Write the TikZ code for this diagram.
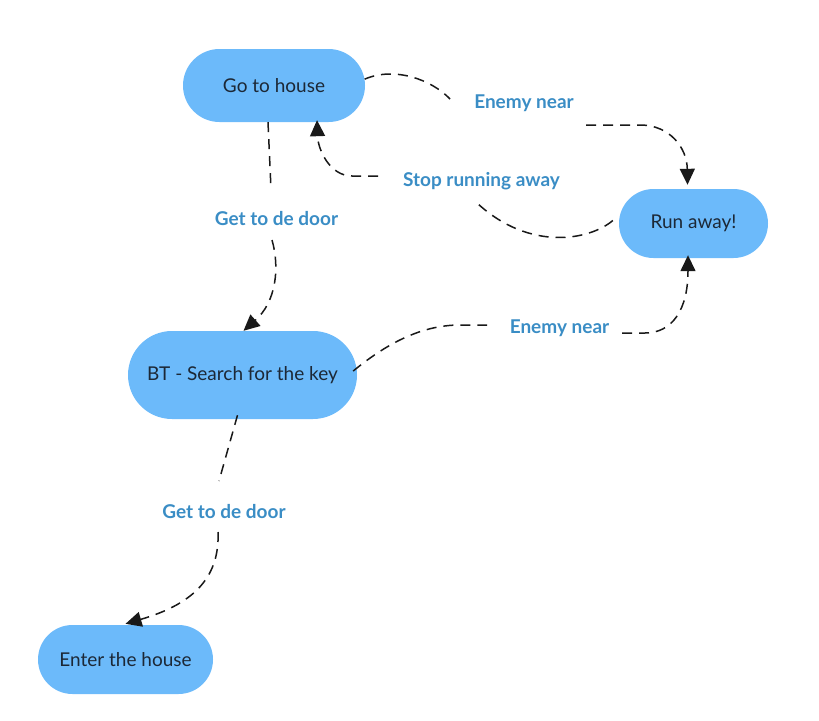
\documentclass[tikz,border=0pt]{standalone}
\usepackage{fontspec}
\setmainfont{Lato}
\usetikzlibrary{shapes.misc,arrows.meta}
\definecolor{nodefill}{HTML}{6CBAFA}
\definecolor{labelblue}{HTML}{3A8DC5}
\definecolor{nodetext}{HTML}{1C2836}
\tikzset{
  state/.style={rounded rectangle, fill=nodefill, draw=none, text=nodetext,
    font=\fontsize{19}{22}\selectfont, inner sep=0pt},
  elabel/.style={text=labelblue, font=\bfseries\fontsize{19}{22}\selectfont, inner sep=1pt},
  conn/.style={draw=black!90, line width=1.5pt, dash pattern=on 10pt off 7pt},
  arr/.style={conn, -{Triangle[length=16pt,width=15pt]}}
}
\begin{document}
\begin{tikzpicture}[x=1pt,y=-1pt]
\useasboundingbox (0,0) rectangle (819,720);
% states
\node[state, minimum width=182pt, minimum height=73pt] (go) at (274,85.5) {Go to house};
\node[state, minimum width=149pt, minimum height=69pt] (run) at (693.5,223.5) {Run away!};
\node[state, minimum width=229pt, minimum height=88pt] (bt) at (242.5,375) {BT - Search for the key};
\node[state, minimum width=175pt, minimum height=69pt] (enter) at (125.5,659.5) {Enter the house};
% labels
\node[elabel] (l1) at (524,103) {Enemy near};
\node[elabel] (l2) at (481.5,181) {Stop running away};
\node[elabel] (l3) at (276.5,218.5) {Get to de door};
\node[elabel] (l4) at (559.5,328) {Enemy near};
\node[elabel] (l5) at (224,511.5) {Get to de door};
% gap ends
\coordinate (g1a) at (450,99);   \coordinate (g1b) at (586,125);
\coordinate (g2a) at (477,203);  \coordinate (g2b) at (378,176);
\coordinate (g3a) at (271,189);  \coordinate (g3b) at (272,240);
\coordinate (g4a) at (487,325);  \coordinate (g4b) at (622,333);
\coordinate (g5a) at (219,481);  \coordinate (g5b) at (218,532);
% Go to house -> Run away (Enemy near)
\draw[conn] (go.4) .. controls (395,66) and (432,80) .. (g1a);
\draw[arr] (g1b) -- (640,125) .. controls (670,125) and (687,148) .. ([xshift=-6pt,yshift=4pt]run.north);
% Run away -> Go to house (Stop running away)
\draw[conn] ([xshift=-6pt,yshift=3pt]run.west) .. controls (590,240) and (530,252) .. (g2a);
\draw[arr] (g2b) -- (352,176) .. controls (330,176) and (318,150) .. ([xshift=43pt,yshift=2pt]go.south);
% Go to house -> BT (Get to de door)
\draw[conn] ([xshift=-6pt]go.south) -- (g3a);
\draw[arr] (g3b) .. controls (280,268) and (276,302) .. ([xshift=1pt]bt.north);
% BT -> Run away (Enemy near)
\draw[conn] ([xshift=-4pt,yshift=4pt]bt.east) .. controls (385,345) and (420,325) .. (460,325) -- (g4a);
\draw[arr] (g4b) -- (645,333) .. controls (672,333) and (688,310) .. ([xshift=-5.5pt,yshift=3pt]run.south);
% BT -> Enter the house (Get to de door)
\draw[conn] ([xshift=-5pt,yshift=4pt]bt.south) -- (g5a);
\draw[arr] (g5b) .. controls (220,580) and (190,605) .. ([yshift=1pt]enter.north);
\end{tikzpicture}
\end{document}
